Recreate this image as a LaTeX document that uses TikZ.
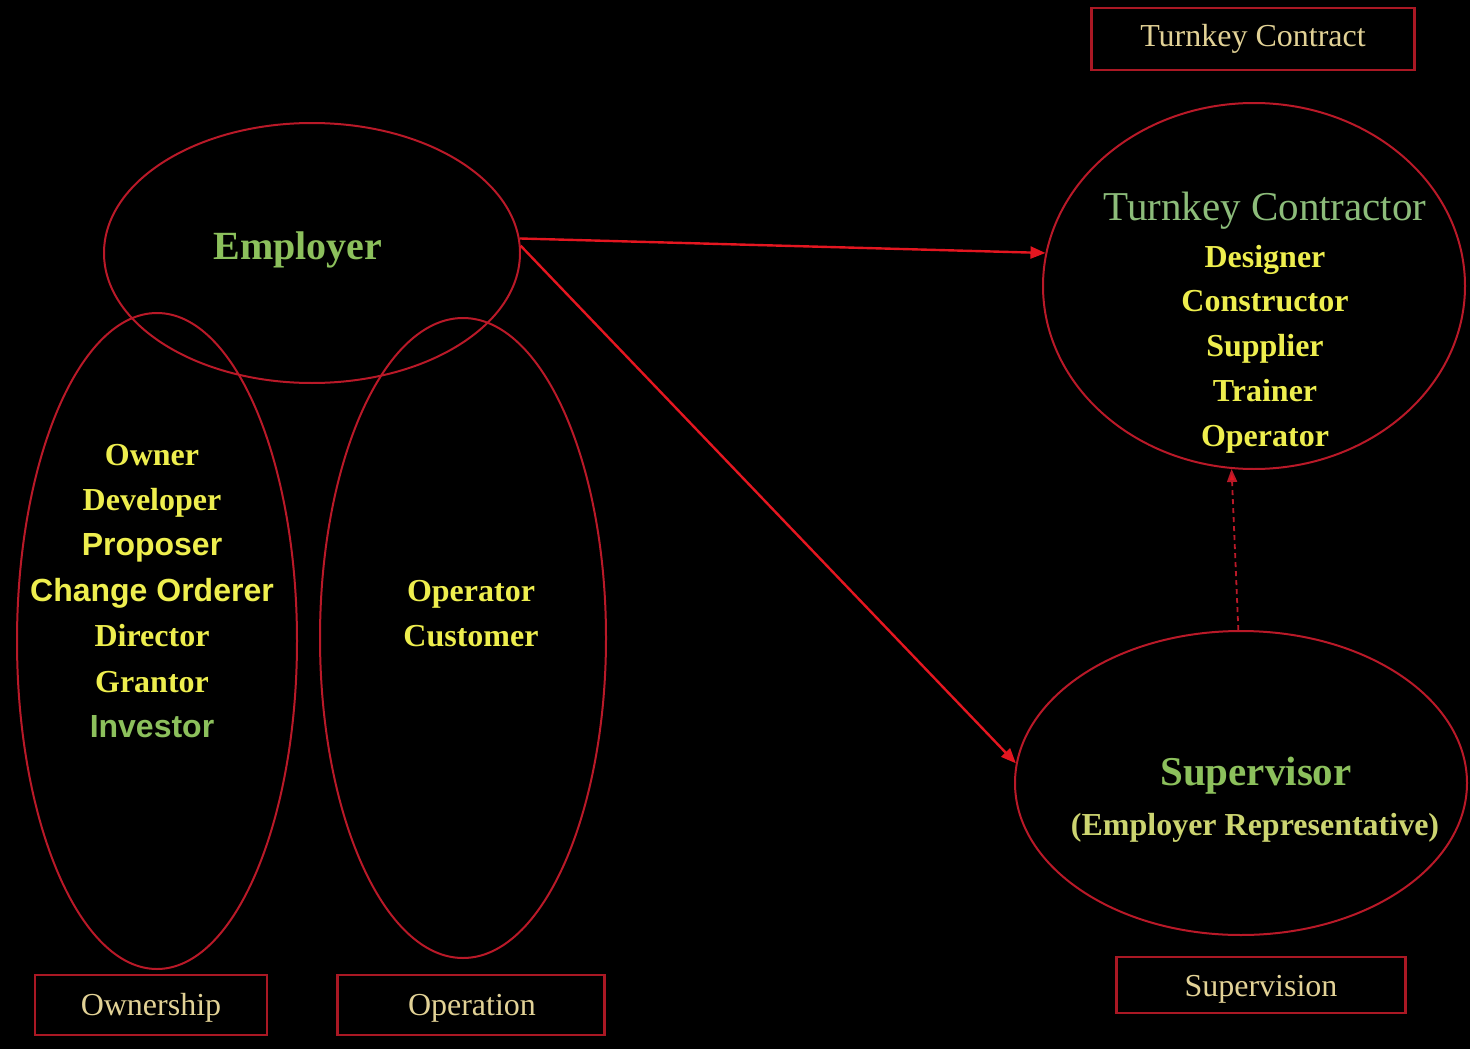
\documentclass[tikz,border=0pt]{standalone}
\usepackage{fontspec}
\setmainfont{Liberation Serif}
\newfontfamily\arialf{Liberation Sans}
\usetikzlibrary{shapes.geometric,arrows.meta}

\definecolor{ringred}{RGB}{185,25,40}
\definecolor{arrowred}{RGB}{228,22,32}
\definecolor{boxred}{RGB}{170,24,36}
\definecolor{roleyellow}{RGB}{238,238,78}
\definecolor{titlegreen}{RGB}{140,192,92}
\definecolor{softgreen}{RGB}{140,188,122}
\definecolor{repyellow}{RGB}{204,212,112}
\definecolor{labeltan}{RGB}{226,210,150}

\tikzset{
  ring/.style={draw=ringred, line width=2pt, ellipse, inner sep=0pt},
  labelbox/.style={draw=boxred, line width=2.6pt},
  role/.style={anchor=base, text=roleyellow, inner sep=0pt, font=\fontsize{32}{36}\selectfont\bfseries},
  rolesans/.style={anchor=base, text=roleyellow, inner sep=0pt, font=\fontsize{32}{36}\selectfont\arialf\bfseries},
  boxtext/.style={anchor=base, text=labeltan, inner sep=0pt, font=\fontsize{32}{36}\selectfont},
  link/.style={draw=arrowred, line width=2.4pt, -{Triangle[length=15pt,width=12pt]}},
  hint/.style={draw=ringred, line width=1.8pt, dash pattern=on 5pt off 4pt,
    -{Triangle[length=13pt,width=10pt,fill=arrowred]}}
}

\begin{document}
\begin{tikzpicture}[x=1pt,y=-1pt]
  % canvas
  \fill[black] (0,0) rectangle (1470,1049);
  \useasboundingbox (0,0) rectangle (1470,1049);

  % ellipses
  \node[ring, minimum width=416pt, minimum height=260pt] (emp) at (312,253) {};
  \node[ring, minimum width=280pt, minimum height=656pt] (own) at (157,641) {};
  \node[ring, minimum width=286pt, minimum height=640pt] (ope) at (463,638) {};
  \node[ring, minimum width=422pt, minimum height=366pt] (tc)  at (1254,286) {};
  \node[ring, minimum width=452pt, minimum height=304pt] (sup) at (1241,783) {};

  % label boxes
  \node[labelbox, minimum width=323pt, minimum height=62pt] (tcbox) at (1253,39) {};
  \node[labelbox, minimum width=232pt, minimum height=60pt] (ownbox) at (151,1005) {};
  \node[labelbox, minimum width=267pt, minimum height=60pt] (opebox) at (471,1005) {};
  \node[labelbox, minimum width=289pt, minimum height=56pt] (supbox) at (1261,985) {};

  \node[boxtext] (tcboxt) at (1253,47) {Turnkey Contract};
  \node[boxtext] (ownboxt) at (151,1015) {Ownership};
  \node[boxtext] (opeboxt) at (472,1015) {Operation};
  \node[boxtext] (supboxt) at (1261,996) {Supervision};

  % employer
  \node[anchor=base, text=titlegreen, inner sep=0pt,
        font=\fontsize{40}{44}\selectfont\bfseries] (empt) at (298,259) {Employer};

  % ownership roles
  \node[role] (r1) at (152,465) {Owner};
  \node[role] (r2) at (152,510) {Developer};
  \node[rolesans] (r3) at (152,555) {Proposer};
  \node[rolesans] (r4) at (152,601) {Change Orderer};
  \node[role] (r5) at (152,646) {Director};
  \node[role] (r6) at (152,692) {Grantor};
  \node[rolesans, text=titlegreen] (r7) at (152,737) {Investor};

  % operation roles
  \node[role] (o1) at (471,601) {Operator};
  \node[role] (o2) at (471,646) {Customer};

  % turnkey contractor
  \node[anchor=base, text=softgreen, inner sep=0pt,
        font=\fontsize{41}{44}\selectfont] (tct) at (1265,220) {Turnkey Contractor};
  \node[role] (c1) at (1265,267) {Designer};
  \node[role] (c2) at (1265,311) {Constructor};
  \node[role] (c3) at (1265,356) {Supplier};
  \node[role] (c4) at (1265,401) {Trainer};
  \node[role] (c5) at (1265,446) {Operator};

  % supervisor
  \node[anchor=base, text=titlegreen, inner sep=0pt,
        font=\fontsize{41}{44}\selectfont\bfseries] (supt) at (1256,785) {Supervisor};
  \node[anchor=base, text=repyellow, inner sep=0pt,
        font=\fontsize{32}{36}\selectfont\bfseries] (rept) at (1255,835) {(Employer Representative)};

  % connectors
  \draw[link] (emp.4) -- (tc.171);
  \draw[link] (emp.2) -- (sup.175);
  \draw[hint] (sup.91) -- (tc.263);
\end{tikzpicture}
\end{document}
